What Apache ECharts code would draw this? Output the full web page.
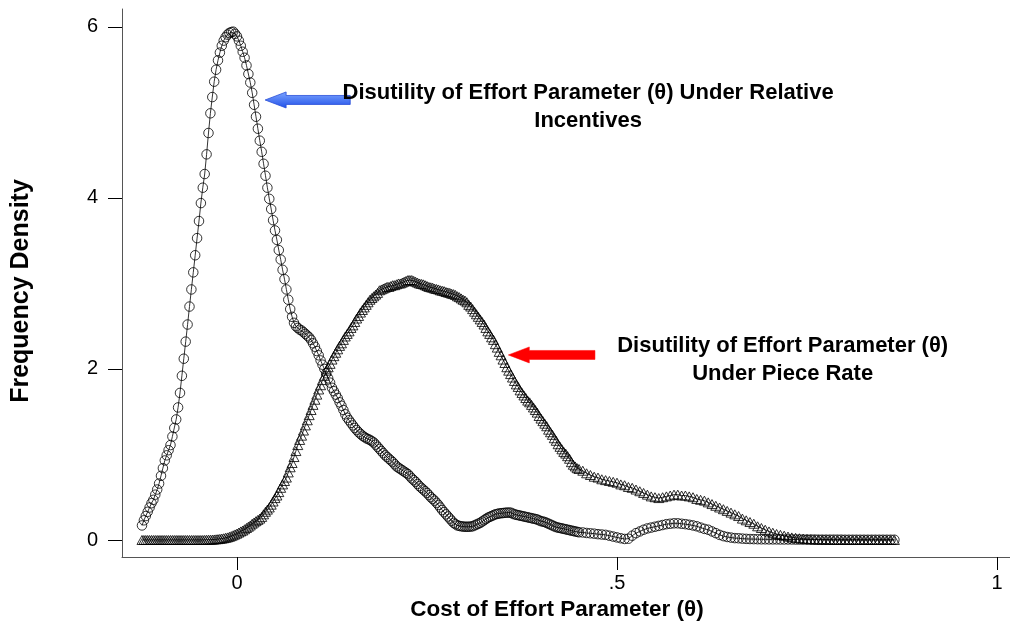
<!DOCTYPE html>
<html><head><meta charset="utf-8">
<script src="https://cdn.jsdelivr.net/npm/echarts@6/dist/echarts.min.js"></script>
<style>html,body{margin:0;padding:0;background:#fff}#c{width:1010px;height:623px}</style>
</head><body><div id="c"></div>
<script>
// evaluation points (cost of effort parameter θ)
const xs = [
-0.125,-0.1225,-0.12,-0.1175,-0.115,-0.1125,-0.11,-0.1075,-0.105,-0.1025,
-0.1,-0.0975,-0.095,-0.0925,-0.09,-0.0875,-0.085,-0.0825,-0.08,-0.0775,
-0.075,-0.0725,-0.07,-0.0675,-0.065,-0.0625,-0.06,-0.0575,-0.055,-0.0525,
-0.05,-0.0475,-0.045,-0.0425,-0.04,-0.0375,-0.035,-0.0325,-0.03,-0.0275,
-0.025,-0.0225,-0.02,-0.0175,-0.015,-0.0125,-0.01,-0.0075,-0.005,-0.0025,0,
0.0025,0.005,0.0075,0.01,0.0125,0.015,0.0175,0.02,0.0225,0.025,
0.0275,0.03,0.0325,0.035,0.0375,0.04,0.0425,0.045,0.0475,0.05,
0.0525,0.055,0.0575,0.06,0.0625,0.065,0.0675,0.07,0.0725,0.075,
0.0775,0.08,0.0825,0.085,0.0875,0.09,0.0925,0.095,0.0975,0.1,
0.1025,0.105,0.1075,0.11,0.1125,0.115,0.1175,0.12,0.1225,0.125,
0.1275,0.13,0.1325,0.135,0.1375,0.14,0.1425,0.145,0.1475,0.15,
0.1525,0.155,0.1575,0.16,0.1625,0.165,0.1675,0.17,0.1725,0.175,
0.1775,0.18,0.1825,0.185,0.1875,0.19,0.1925,0.195,0.1975,0.2,
0.2025,0.205,0.2075,0.21,0.2125,0.215,0.2175,0.22,0.2225,0.225,
0.2275,0.23,0.2325,0.235,0.2375,0.24,0.2425,0.245,0.2475,0.25,
0.2525,0.255,0.2575,0.26,0.2625,0.265,0.2675,0.27,0.2725,0.275,
0.2775,0.28,0.2825,0.285,0.2875,0.29,0.2925,0.295,0.2975,0.3,
0.3025,0.305,0.3075,0.31,0.3125,0.315,0.3175,0.32,0.3225,0.325,
0.3275,0.33,0.3325,0.335,0.3375,0.34,0.3425,0.345,0.3475,0.35,
0.3525,0.355,0.3575,0.36,0.3625,0.365,0.3675,0.37,0.3725,0.375,
0.3775,0.38,0.3825,0.385,0.3875,0.39,0.3925,0.395,0.3975,0.4,
0.4025,0.405,0.4075,0.41,0.4125,0.415,0.4175,0.42,0.4225,0.425,
0.4275,0.43,0.4325,0.435,0.4375,0.44,0.4425,0.445,0.4475,0.45,
0.455,0.46,0.465,0.47,0.475,0.48,0.485,0.49,0.495,0.5,
0.505,0.51,0.515,0.52,0.525,0.53,0.535,0.54,0.545,0.55,
0.555,0.56,0.565,0.57,0.575,0.58,0.585,0.59,0.595,0.6,
0.605,0.61,0.615,0.62,0.625,0.63,0.635,0.64,0.645,0.65,
0.655,0.66,0.665,0.67,0.675,0.68,0.685,0.69,0.695,0.7,
0.705,0.71,0.715,0.72,0.725,0.73,0.735,0.74,0.745,0.75,
0.755,0.76,0.765,0.77,0.775,0.78,0.785,0.79,0.795,0.8,
0.805,0.81,0.815,0.82,0.825,0.83,0.835,0.84,0.845,0.85,
0.855,0.86,0.865
];
// density under relative incentives (circles)
const relY = [
0.17,0.23,0.28,0.33,0.38,0.43,0.47,0.53,0.59,0.66,
0.75,0.84,0.93,0.99,1.05,1.11,1.21,1.31,1.41,1.55,
1.72,1.92,2.12,2.32,2.52,2.73,2.93,3.13,3.33,3.53,
3.73,3.94,4.12,4.28,4.51,4.76,4.99,5.18,5.36,5.50,
5.61,5.70,5.78,5.84,5.88,5.91,5.93,5.94,5.945,5.92,5.89,
5.84,5.78,5.71,5.64,5.55,5.45,5.35,5.23,5.09,4.95,
4.81,4.67,4.54,4.40,4.26,4.12,3.99,3.87,3.74,3.62,
3.51,3.39,3.28,3.16,3.05,2.93,2.81,2.70,2.61,2.54,
2.50,2.48,2.46,2.45,2.43,2.41,2.39,2.37,2.34,2.30,
2.26,2.21,2.16,2.10,2.05,2.00,1.95,1.89,1.84,1.78,
1.74,1.70,1.66,1.61,1.57,1.52,1.47,1.43,1.40,1.37,
1.34,1.31,1.285,1.26,1.24,1.22,1.205,1.19,1.18,1.17,
1.155,1.14,1.115,1.09,1.065,1.04,1.015,0.99,0.97,0.95,
0.93,0.91,0.885,0.86,0.845,0.83,0.815,0.80,0.785,0.77,
0.745,0.72,0.70,0.68,0.655,0.63,0.61,0.59,0.57,0.55,
0.525,0.50,0.48,0.46,0.435,0.41,0.38,0.35,0.325,0.30,
0.275,0.25,0.225,0.20,0.185,0.17,0.165,0.16,0.157,0.155,
0.155,0.155,0.157,0.16,0.17,0.18,0.19,0.20,0.215,0.23,
0.245,0.26,0.27,0.28,0.29,0.30,0.305,0.31,0.313,0.315,
0.318,0.32,0.32,0.32,0.31,0.30,0.295,0.29,0.285,0.28,
0.275,0.27,0.265,0.26,0.255,0.25,0.245,0.24,0.23,0.22,
0.215,0.21,0.20,0.19,0.18,0.17,0.16,0.15,0.145,0.14,
0.135,0.13,0.125,0.12,0.115,0.11,0.105,0.10,0.095,0.09,
0.088,0.082,0.078,0.074,0.068,0.064,0.06,0.05,0.04,0.03,
0.02,0.012,0.015,0.05,0.08,0.10,0.12,0.135,0.145,0.155,
0.165,0.175,0.185,0.19,0.195,0.195,0.19,0.185,0.178,0.17,
0.16,0.145,0.13,0.12,0.10,0.08,0.06,0.045,0.035,0.028,
0.022,0.02,0.016,0.013,0.011,0.01,0.009,0.008,0.008,0.007,
0.007,0.007,0.006,0.006,0.006,0.006,0.005,0.005,0.005,0.005,
0.005,0.005,0.004,0.004,0.004,0.004,0.004,0.004,0.004,0.003,
0.003,0.003,0.003,0.003,0.003,0.003,0.003,0.003,0.003,0.003,
0.003,0.003,0.003
];
// density under piece rate (triangles)
const prY = [
0,0,0,0,0,0,0,0,0,0,
0,0,0,0,0,0,0,0,0,0,
0,0,0,0,0,0,0,0,0,0,
0,0,0,0.001,0.002,0.003,0.003,0.004,0.006,0.008,
0.01,0.013,0.016,0.02,0.025,0.03,0.037,0.045,0.055,0.065,0.075,
0.087,0.10,0.11,0.125,0.14,0.155,0.17,0.19,0.205,0.22,
0.235,0.25,0.27,0.30,0.33,0.355,0.38,0.413,0.45,0.49,
0.52,0.56,0.61,0.65,0.69,0.73,0.79,0.85,0.90,0.97,
1.04,1.11,1.17,1.22,1.28,1.34,1.40,1.46,1.52,1.58,
1.64,1.70,1.76,1.81,1.87,1.92,1.98,2.02,2.06,2.11,
2.15,2.19,2.23,2.27,2.30,2.34,2.38,2.41,2.44,2.48,
2.51,2.55,2.59,2.62,2.66,2.69,2.72,2.75,2.78,2.81,
2.83,2.85,2.87,2.89,2.92,2.93,2.94,2.95,2.96,2.96,
2.97,2.98,2.98,2.99,3.00,3.00,3.01,3.02,3.03,3.04,
3.04,3.04,3.03,3.02,3.01,3.00,2.995,2.99,2.98,2.97,
2.96,2.955,2.95,2.94,2.935,2.93,2.92,2.915,2.91,2.90,
2.895,2.89,2.88,2.875,2.865,2.85,2.84,2.825,2.81,2.80,
2.78,2.75,2.73,2.70,2.67,2.64,2.61,2.58,2.55,2.52,
2.48,2.44,2.41,2.37,2.34,2.29,2.25,2.20,2.16,2.11,
2.07,2.02,1.98,1.94,1.90,1.86,1.82,1.79,1.75,1.72,
1.69,1.66,1.63,1.61,1.58,1.55,1.52,1.49,1.45,1.42,
1.39,1.36,1.33,1.29,1.26,1.23,1.19,1.16,1.12,1.09,
1.06,1.03,1.01,0.98,0.95,0.91,0.88,0.86,0.84,0.83,
0.81,0.78,0.76,0.74,0.73,0.71,0.70,0.69,0.68,0.67,
0.65,0.64,0.62,0.61,0.59,0.57,0.55,0.53,0.51,0.50,
0.49,0.50,0.51,0.52,0.53,0.53,0.52,0.52,0.51,0.50,
0.48,0.47,0.46,0.44,0.42,0.40,0.38,0.36,0.34,0.32,
0.30,0.28,0.25,0.23,0.21,0.19,0.16,0.14,0.12,0.10,
0.085,0.07,0.06,0.05,0.04,0.03,0.025,0.02,0.015,0.01,
0.008,0.006,0.005,0.004,0.003,0.002,0,0,0,0,
0,0,0,0,0,0,0,0,0,0,
0,0,0
];
const xTicks = [0, 0.5, 1];
const xTickLabels = ['0', '.5', '1'];
const yTicks = [0, 2, 4, 6];
const yTickLabels = ['0', '2', '4', '6'];
const xTitle = 'Cost of Effort Parameter (θ)';
const yTitle = 'Frequency Density';
const relLabel = ['Disutility of Effort Parameter (θ) Under Relative', 'Incentives'];
const prLabel = ['Disutility of Effort Parameter (θ)', 'Under Piece Rate'];
// annotation anchors in data coordinates
const relTextAt = [0.462, 5.06];
const prTextAt = [0.718, 2.11];
const relArrow = { from: [0.149, 5.146], to: [0.037, 5.146] };
const prArrow = { from: [0.471, 2.164], to: [0.357, 2.164] };

const FONT = '"Liberation Sans", Arial, Helvetica, sans-serif';
const chart = echarts.init(document.getElementById('c'), null, { renderer: 'canvas' });

chart.setOption({
  animation: false,
  backgroundColor: '#fff',
  grid: { left: 122, right: 0, top: 9, bottom: 66, containLabel: false, outerBoundsMode: 'none' },
  xAxis: {
    type: 'value', min: -0.1513, max: 1.0171,
    splitLine: { show: false },
    axisLine: { show: true, onZero: false, lineStyle: { color: '#555', width: 1 } },
    axisTick: { show: true, customValues: xTicks, length: 13, lineStyle: { color: '#000', width: 1 } },
    axisLabel: { customValues: xTicks, formatter: v => xTickLabels[xTicks.indexOf(v)] ?? '',
      fontSize: 20, color: '#000', margin: 16, fontFamily: FONT },
    name: xTitle, nameLocation: 'middle', nameGap: 39,
    nameTextStyle: { fontSize: 22.5, fontWeight: 'bold', color: '#000', fontFamily: FONT, padding: [0, 18, 0, 0] }
  },
  yAxis: {
    type: 'value', min: -0.199, max: 6.21,
    splitLine: { show: false },
    axisLine: { show: true, onZero: false, lineStyle: { color: '#555', width: 1 } },
    axisTick: { show: true, customValues: yTicks, length: 14, lineStyle: { color: '#000', width: 1 } },
    axisLabel: { customValues: yTicks, formatter: v => yTickLabels[yTicks.indexOf(v)] ?? '',
      fontSize: 20, color: '#000', margin: 24, fontFamily: FONT },
    name: yTitle, nameLocation: 'middle', nameGap: 88, nameRotate: 90,
    nameTextStyle: { fontSize: 25, fontWeight: 'bold', color: '#000', fontFamily: FONT, padding: [0, 16, 0, 0] }
  },
  series: [
    {
      name: 'Relative incentives', type: 'line',
      data: xs.map((x, i) => [x, relY[i]]),
      symbol: 'circle', symbolSize: 9.5, showAllSymbol: true, silent: true,
      itemStyle: { color: 'rgba(0,0,0,0)', borderColor: '#000', borderWidth: 0.8 },
      lineStyle: { color: '#000', width: 0.8 },
      emphasis: { disabled: true }, z: 2
    },
    {
      name: 'Piece rate', type: 'line',
      data: xs.map((x, i) => [x, prY[i]]),
      symbol: 'triangle', symbolSize: [10, 9], showAllSymbol: true, silent: true,
      itemStyle: { color: 'rgba(0,0,0,0)', borderColor: '#000', borderWidth: 0.8 },
      lineStyle: { color: '#000', width: 0.8 },
      emphasis: { disabled: true }, z: 3
    }
  ]
});

function px(pt) { return chart.convertToPixel({ gridIndex: 0 }, pt); }
function arrowShape(a) {
  const t = px(a.from), h = px(a.to);
  const y = h[1], hl = 21, hh = 8, sh = 4.5;
  return [[h[0], y], [h[0] + hl, y - hh], [h[0] + hl, y - sh], [t[0], y - sh],
          [t[0], y + sh], [h[0] + hl, y + sh], [h[0] + hl, y + hh]];
}
function textEl(lines, at) {
  const p = px(at);
  return { type: 'text', x: p[0], y: p[1], silent: true, z: 10,
    style: { text: lines.join('\n'), align: 'center', verticalAlign: 'middle',
      font: 'bold 22px ' + FONT, lineHeight: 28, fill: '#000' } };
}
chart.setOption({
  graphic: [
    { type: 'polygon', silent: true, z: 10, shape: { points: arrowShape(relArrow) },
      style: { fill: new echarts.graphic.LinearGradient(0, 0, 0, 1, [
        { offset: 0, color: '#7ea6ff' }, { offset: 1, color: '#1f4fe8' }]),
        stroke: '#2a4fd8', lineWidth: 0.8 } },
    { type: 'polygon', silent: true, z: 10, shape: { points: arrowShape(prArrow) },
      style: { fill: '#ff0000', stroke: '#ff0000', lineWidth: 0.5 } },
    textEl(relLabel, relTextAt),
    textEl(prLabel, prTextAt)
  ]
});
</script>
</body></html>
